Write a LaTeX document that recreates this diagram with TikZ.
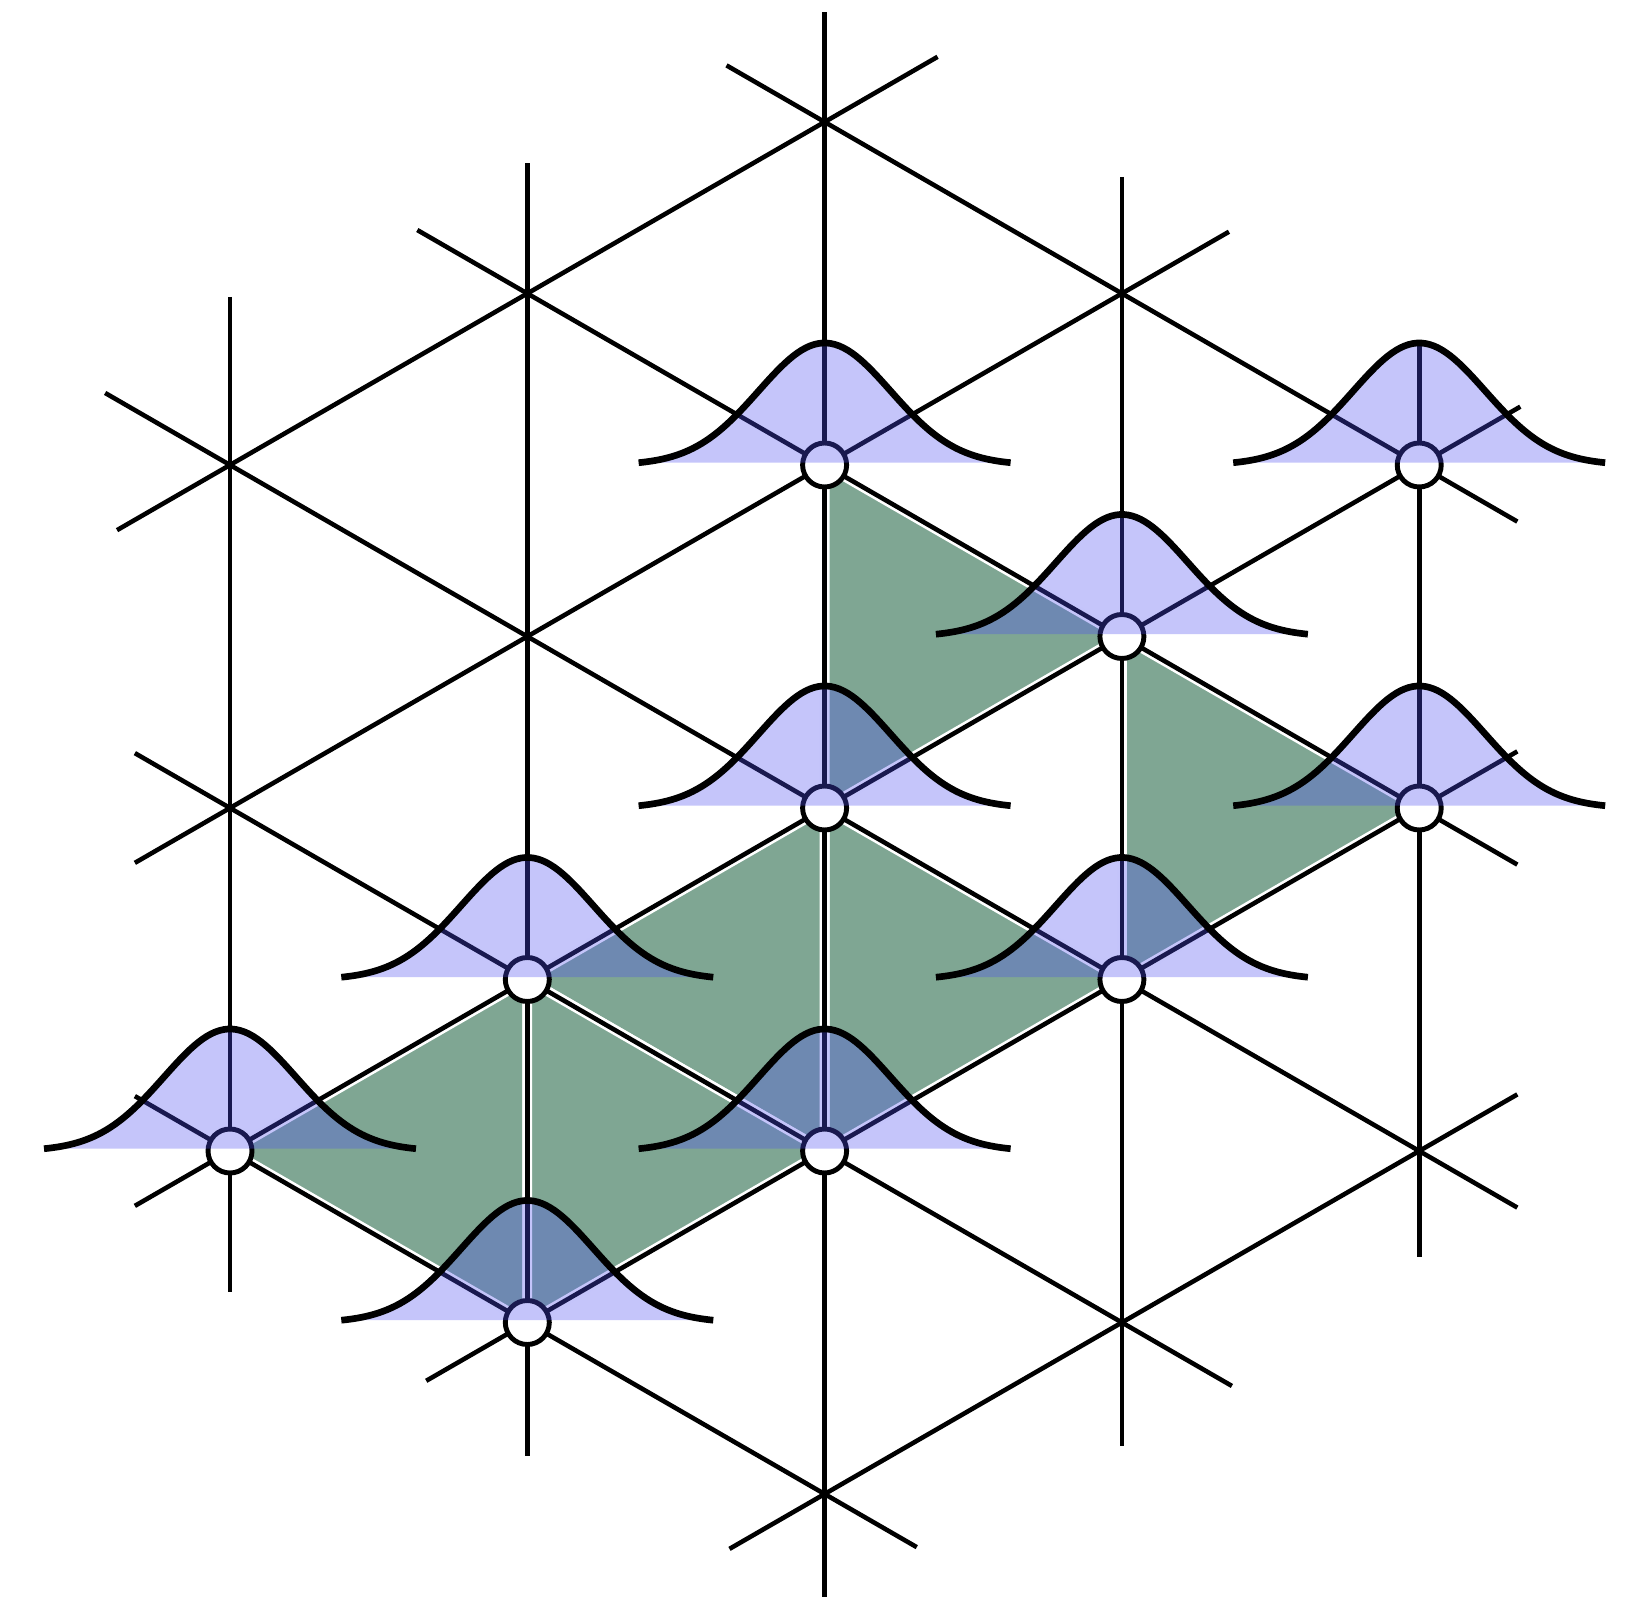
\documentclass[tikz,border=0pt]{standalone}
\usetikzlibrary{calc}
\definecolor{sagegreen}{HTML}{7FA693}
\definecolor{bellblue}{RGB}{78,78,240}

\begin{document}
\begin{tikzpicture}[
  latline/.style={black, line width=1.3pt},
  cell/.style={fill=sagegreen, draw=white, line width=2.8pt, line join=round},
  site/.style={circle, draw=black, fill=white, line width=1.4pt, minimum size=0.44cm, inner sep=0pt},
  bellfill/.style={fill=bellblue, fill opacity=0.33},
  bellline/.style={black, line width=1.9pt},
]

% Canvas
\useasboundingbox (0,0) rectangle (16.29,15.96);

% Lattice parameters
\def\dx{2.973}  % column spacing
\def\dy{1.715}  % half edge (row step)

% Lattice points: name / column / row (row counted from the top)
\foreach \n/\i/\l in {a2/0/2, a4/0/4, a6/0/6,
                      b1/1/1, b3/1/3, b5/1/5, b7/1/7,
                      c0/2/0, c2/2/2, c4/2/4, c6/2/6, c8/2/8,
                      d1/3/1, d3/3/3, d5/3/5, d7/3/7,
                      e2/4/2, e4/4/4, e6/4/6} {
  \coordinate (\n) at ({2.30 + \i*\dx}, {14.74 - \l*\dy});
}

% ============ Shaded cells ============
\foreach \p/\q/\r in {c2/d3/c4, d3/e4/d5, c4/d5/c6, b5/c4/c6, a6/b5/b7, b5/c6/b7} {
  \path[cell] (\p) -- (\q) -- (\r) -- cycle;
}

% ============ Lattice lines ============
% start/its neighbour/overshoot/end/its neighbour/overshoot
\foreach \s/\sn/\se/\e/\en/\ee in {
    a2/a4/0.49/a6/a4/0.41,   % vertical
    b1/b3/0.38/b7/b5/0.39,
    c0/c2/0.32/c8/c6/0.32,
    d1/d3/0.34/d7/d5/0.36,
    e2/e4/0.36/e6/e4/0.31,
    c0/d1/0.33/e2/d1/0.33,   % falling
    b1/c2/0.37/e4/d3/0.33,
    a2/b3/0.42/e6/d5/0.33,
    a4/b5/0.32/d7/c6/0.37,
    a6/b7/0.32/c8/b7/0.31,
    a2/b1/0.38/c0/b1/0.38,   % rising
    a4/b3/0.32/d1/c2/0.36,
    a6/b5/0.32/e2/d3/0.34,
    b7/c6/0.34/e4/d5/0.33,
    c8/d7/0.32/e6/d7/0.33} {
  \draw[latline] ($(\s)!-\se!(\sn)$) -- ($(\e)!-\ee!(\en)$);
}

% ============ Sites ============
\foreach \p in {c2, e2, d3, c4, e4, b5, d5, a6, c6, b7} {
  \node[site] (s-\p) at (\p) {};
}

% ============ Gaussians ============
\foreach \p in {c2, e2, d3, c4, e4, b5, d5, a6, c6, b7} {
  \fill[bellfill, shift={(\p)}]
    plot[domain=-1.86:1.86, samples=90] (\x, {1.22*exp(-(\x*\x)/0.8712)}) -- cycle;
  \draw[bellline, shift={(\p)}]
    plot[domain=-1.86:1.86, samples=90] (\x, {1.22*exp(-(\x*\x)/0.8712)});
}

\end{tikzpicture}
\end{document}
